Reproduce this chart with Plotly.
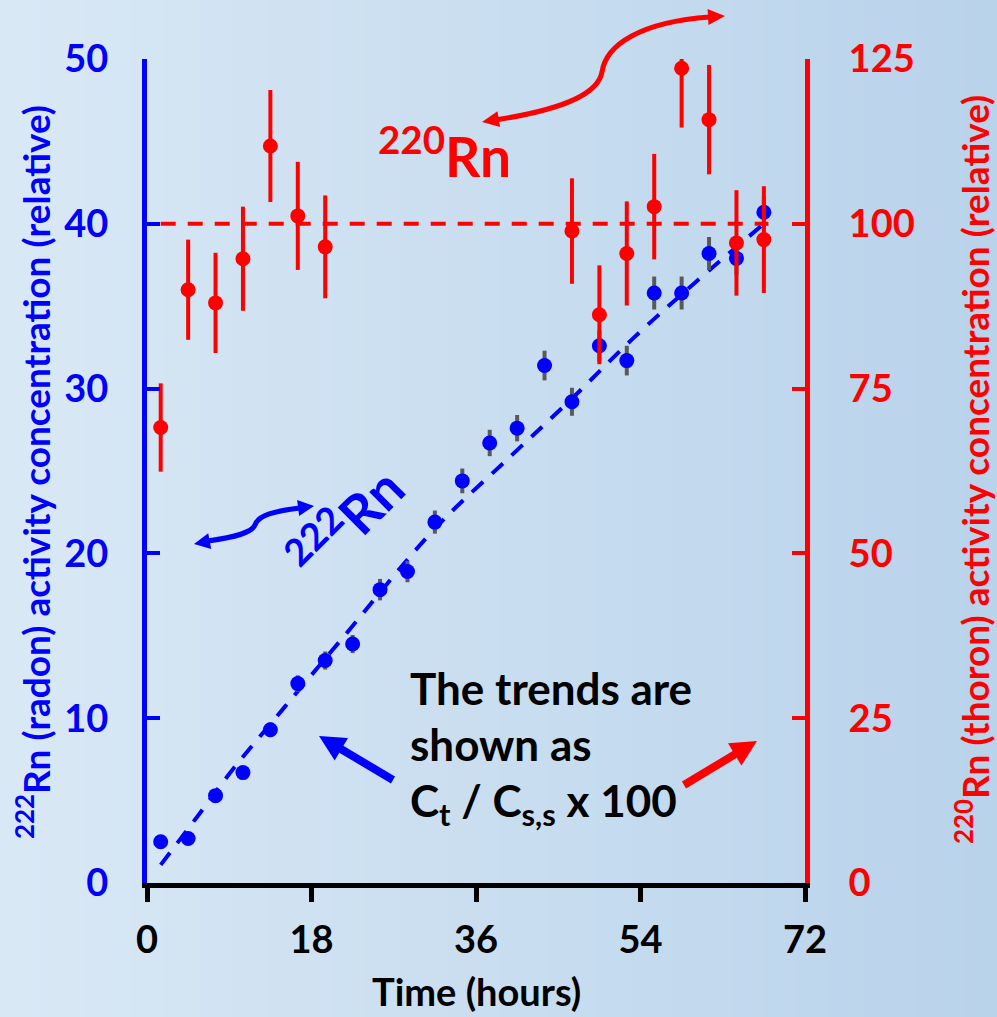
import math
import plotly.graph_objects as go

# ---------------- data ----------------
time_h = [1.5, 4.5, 7.5, 10.5, 13.5, 16.5, 19.5, 22.5, 25.5, 28.5, 31.5, 34.5,
          37.5, 40.5, 43.5, 46.5, 49.5, 52.5, 55.5, 58.5, 61.5, 64.5, 67.5]
radon = [2.5, 2.7, 5.3, 6.7, 9.3, 12.1, 13.5, 14.5, 17.8, 18.9, 21.9, 24.4,
         26.7, 27.6, 31.4, 29.2, 32.6, 31.7, 35.8, 35.8, 38.2, 37.9, 40.7]
radon_err = [0.3, 0.3, 0.35, 0.4, 0.45, 0.5, 0.55, 0.55, 0.65, 0.65, 0.7, 0.75,
             0.8, 0.8, 0.9, 0.85, 0.95, 0.9, 1.0, 1.0, 1.0, 1.0, 1.0]

thoron_t = [1.5, 4.5, 7.5, 10.5, 13.5, 16.5, 19.5,
            46.5, 49.5, 52.5, 55.5, 58.5, 61.5, 64.5, 67.5]
thoron = [69.1, 90.0, 88.0, 94.7, 111.8, 101.2, 96.5,
          98.9, 86.2, 95.5, 102.6, 123.6, 115.8, 97.1, 97.6]
thoron_err_plus = [6.7, 7.6, 7.6, 7.9, 8.5, 8.2, 7.8,
                   8.0, 7.5, 7.9, 8.0, 1.4, 8.3, 8.0, 8.1]
thoron_err_minus = [6.7, 7.6, 7.6, 7.9, 8.5, 8.2, 7.8,
                    8.0, 7.5, 7.9, 8.0, 9.0, 8.3, 8.0, 8.1]

# radon ingrowth trend
trend_t = [1.5, 5.6, 9.4, 15.1, 21.3, 31.5, 39.8, 46.5, 53.1, 59.9, 67.5]
trend_radon = [1.1, 4.1, 6.9, 10.7, 14.8, 21.5, 25.9, 29.4, 33.0, 36.4, 40.0]
steady_t = [1.5, 68.0]
steady_thoron = [100, 100]

x_ticks = [0, 18, 36, 54, 72]
y_ticks = [0, 10, 20, 30, 40, 50]
y2_ticks = [0, 25, 50, 75, 100, 125]

BLUE = "#0000FF"
RED = "#FF0000"
FONT = "Lato"

# plot-area geometry (pixels)
W, H = 997, 1017
L, R, T, B = 147, 805, 59, 883


def P(x, y):
    return (x - L) / (R - L), (B - y) / (B - T)


def path_str(cmds):
    out = []
    for c in cmds:
        if isinstance(c, str):
            out.append(c)
        else:
            px, py = P(*c)
            out.append(f"{px:.5f},{py:.5f}")
    return " ".join(out)


fig = go.Figure()

fig.add_trace(go.Scatter(
    x=trend_t, y=trend_radon, mode="lines",
    line=dict(color=BLUE, width=4, dash="15px,12px", shape="spline",
              smoothing=1.0),
    hoverinfo="skip", showlegend=False))
fig.add_trace(go.Scatter(
    x=time_h, y=radon, mode="markers",
    marker=dict(color=BLUE, size=15),
    error_y=dict(type="data", array=radon_err, color="#595959",
                 thickness=4, width=0),
    showlegend=False, cliponaxis=False))

fig.add_trace(go.Scatter(
    x=steady_t, y=steady_thoron, mode="lines", yaxis="y2",
    line=dict(color=RED, width=4, dash="15px,12px"),
    hoverinfo="skip", showlegend=False))
fig.add_trace(go.Scatter(
    x=thoron_t, y=thoron, mode="markers", yaxis="y2",
    marker=dict(color=RED, size=15),
    error_y=dict(type="data", symmetric=False, array=thoron_err_plus,
                 arrayminus=thoron_err_minus, color=RED, thickness=4, width=0),
    showlegend=False, cliponaxis=False))

shapes = []

# background gradient (left light -> right darker)
n = 60
c0 = (217, 232, 245)
c1 = (185, 211, 235)
for i in range(n):
    f = i / (n - 1)
    col = tuple(round(c0[k] + (c1[k] - c0[k]) * f) for k in range(3))
    xa = i * W / n
    xb = (i + 1) * W / n + 1
    x0p, y0p = P(xa, H)
    x1p, y1p = P(xb, 0)
    shapes.append(dict(type="rect", xref="paper", yref="paper",
                       x0=x0p, x1=x1p, y0=y0p, y1=y1p,
                       fillcolor="rgb(%d,%d,%d)" % col, line=dict(width=0),
                       layer="below"))


def head(tip, frm, length, hw, color):
    dx, dy = tip[0] - frm[0], tip[1] - frm[1]
    d = math.hypot(dx, dy)
    ux, uy = dx / d, dy / d
    bx, by = tip[0] - ux * length, tip[1] - uy * length
    nx, ny = -uy, ux
    p1 = (bx + nx * hw, by + ny * hw)
    p2 = (bx - nx * hw, by - ny * hw)
    shapes.append(dict(type="path", xref="paper", yref="paper",
                       path=path_str(["M", tip, "L", p1, "L", p2, "Z"]),
                       fillcolor=color, line=dict(width=0), layer="above"))
    return (bx + ux * 2, by + uy * 2)


def curve(cmds, color, width):
    shapes.append(dict(type="path", xref="paper", yref="paper",
                       path=path_str(cmds), line=dict(color=color, width=width),
                       layer="above"))


# red curved double arrow
curve(["M", (495, 120), "C", (560, 110), (598, 95), (602, 72),
       "C", (606, 45), (640, 22), (710, 17)], RED, 5)
head((482, 122), (500, 119), 17, 8, RED)
head((725, 16), (708, 17), 17, 8, RED)

# blue curved double arrow
curve(["M", (208, 541), "C", (235, 537), (252, 533), (255, 525),
       "C", (258, 515), (275, 511), (300, 508)], BLUE, 5)
head((194, 544), (210, 541), 16, 8, BLUE)
head((314, 506), (298, 508), 16, 8, BLUE)

# straight arrows
for tail, tip, col in [((393, 780), (319, 736), BLUE),
                       ((684, 785), (757, 741), RED)]:
    base = head(tip, tail, 26, 13, col)
    curve(["M", tail, "L", base], col, 8)

annotations = []


def ann(text, x, y, size, color, xanchor="center", yanchor="middle", angle=0):
    px, py = P(x, y)
    annotations.append(dict(text=text, x=px, y=py, xref="paper", yref="paper",
                            showarrow=False, xanchor=xanchor, yanchor=yanchor,
                            textangle=angle, borderpad=0,
                            font=dict(family=FONT, size=size, color=color,
                                      weight="bold")))


ann("<sup>222</sup>Rn (radon) activity concentration (relative)", 33, 472,
    37, BLUE, angle=-90)
ann("<sup>220</sup>Rn (thoron) activity concentration (relative)", 972, 470,
    37, RED, angle=-90)
ann("Time (hours)", 476, 991, 38, "black")
ann("<sup>220</sup>Rn", 377, 152, 55, RED, xanchor="left")
ann("<sup>222</sup>Rn", 345, 522, 54, BLUE, angle=-45)
ann("The trends are", 409, 688, 44, "black", xanchor="left")
ann("shown as", 409, 744, 44, "black", xanchor="left")
ann("C<sub>t</sub> / C<sub>s,s</sub> x 100", 409, 803, 44, "black",
    xanchor="left")

tickfont = dict(family=FONT, size=38, weight="bold")

fig.update_layout(
    width=W, height=H,
    margin=dict(l=L, r=W - R, t=T, b=H - B, pad=0),
    paper_bgcolor="rgb(205,224,241)",
    plot_bgcolor="rgba(0,0,0,0)",
    showlegend=False,
    shapes=shapes,
    annotations=annotations,
    xaxis=dict(range=[0, 72], tickvals=x_ticks, showgrid=False, zeroline=False,
               showline=True, linecolor="black", linewidth=5,
               ticks="outside", ticklen=14, tickwidth=5, tickcolor="black",
               tickfont=dict(tickfont, color="black"), ticklabelstandoff=5),
    yaxis=dict(range=[0, 50], tickvals=y_ticks, showgrid=False, zeroline=False,
               showline=True, linecolor=BLUE, linewidth=5,
               ticks="inside", ticklen=13, tickwidth=4, tickcolor=BLUE,
               tickfont=dict(tickfont, color=BLUE), ticklabelstandoff=26),
    yaxis2=dict(range=[0, 125], tickvals=y2_ticks, overlaying="y", side="right",
                anchor="x", showgrid=False, zeroline=False,
                showline=True, linecolor=RED, linewidth=5,
                ticks="inside", ticklen=13, tickwidth=4, tickcolor=RED,
                tickfont=dict(tickfont, color=RED), ticklabelstandoff=31),
)

fig.write_html("out.html")
